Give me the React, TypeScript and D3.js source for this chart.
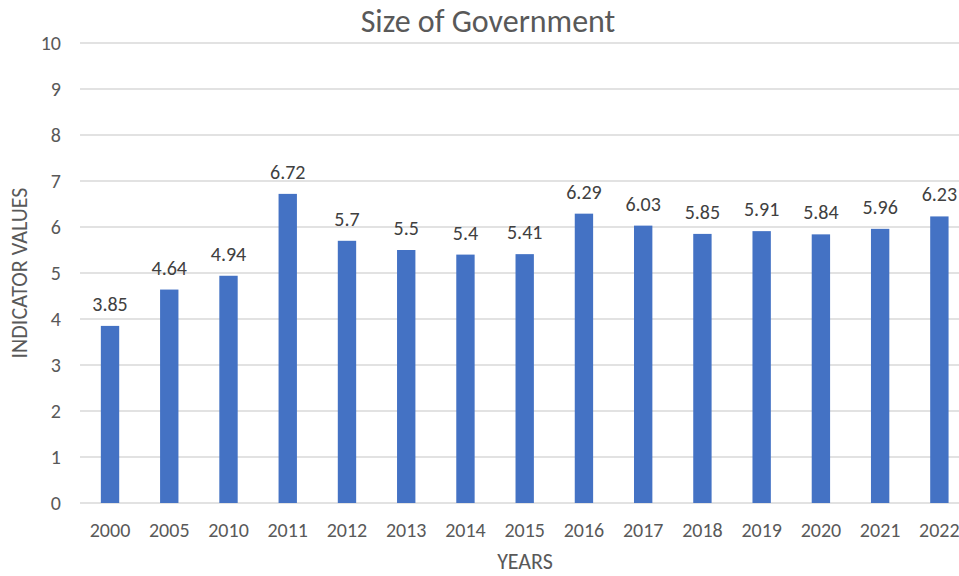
import React from "react";
import * as d3 from "d3";

const years = ["2000", "2005", "2010", "2011", "2012", "2013", "2014", "2015", "2016", "2017", "2018", "2019", "2020", "2021", "2022"];
const values = [3.85, 4.64, 4.94, 6.72, 5.7, 5.5, 5.4, 5.41, 6.29, 6.03, 5.85, 5.91, 5.84, 5.96, 6.23];
const yTicks = [0, 1, 2, 3, 4, 5, 6, 7, 8, 9, 10];
const labels = ["3.85", "4.64", "4.94", "6.72", "5.7", "5.5", "5.4", "5.41", "6.29", "6.03", "5.85", "5.91", "5.84", "5.96", "6.23"];

const W = 959;
const H = 576;
const FONT = "Calibri, Carlito, Lato, sans-serif";
const TXT = "#595959";

export default function App() {
  const x = d3.scaleBand<string>().domain(years).range([80.4, 969]).paddingInner(0.69).paddingOuter(0.345);
  const y = d3.scaleLinear().domain([0, 10]).range([503, 43]);
  return (
    <svg width={W} height={H} style={{ position: "absolute", left: 0, top: 0, background: "#fff" }} fontFamily={FONT}>
      <text x={488} y={32} textAnchor="middle" fontSize={32} fill={TXT}>Size of Government</text>
      {yTicks.map((t) => (
        <g key={t}>
          <line x1={80} x2={W} y1={y(t)} y2={y(t)} stroke="#d9d9d9" strokeWidth={1.3} />
          <text x={61} y={y(t)} dy="0.35em" textAnchor="end" fontSize={20} fill={TXT}>{t}</text>
        </g>
      ))}
      {values.map((v, i) => (
        <g key={years[i]}>
          <rect x={x(years[i])} y={y(v)} width={x.bandwidth()} height={y(0) - y(v)} fill="#4472C4" />
          <text x={(x(years[i]) as number) + x.bandwidth() / 2} y={y(v) - 15} textAnchor="middle" fontSize={20} fill="#404040">{labels[i]}</text>
          <text x={(x(years[i]) as number) + x.bandwidth() / 2} y={537} textAnchor="middle" fontSize={20} fill={TXT}>{years[i]}</text>
        </g>
      ))}
      <text transform="translate(27,273) rotate(-90)" textAnchor="middle" fontSize={22} fill={TXT}>INDICATOR VALUES</text>
      <text x={525} y={569} textAnchor="middle" fontSize={22} fill={TXT}>YEARS</text>
    </svg>
  );
}
